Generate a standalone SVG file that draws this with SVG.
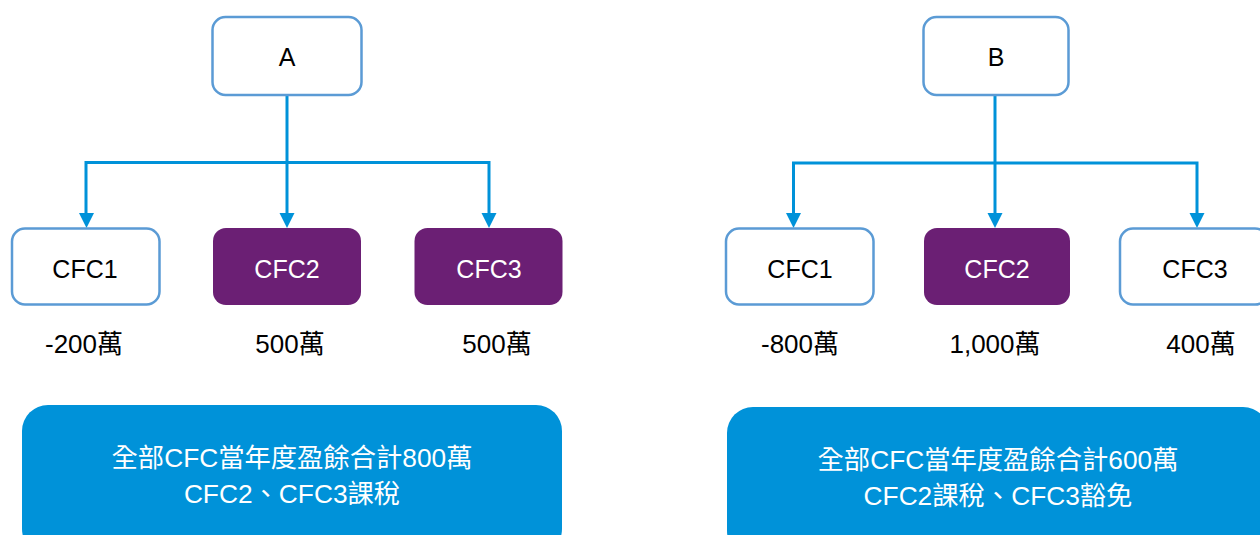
<svg xmlns="http://www.w3.org/2000/svg" width="1260" height="535" viewBox="0 0 1260 535">
<defs>
<style>
text{font-family:"Liberation Sans","Noto Sans CJK TC",sans-serif;text-anchor:middle}
.box{fill:#fff;stroke:#5B9BD5;stroke-width:2.5}
.pur{fill:#6B1F74}
.bt{font-size:25px;fill:#000}
.wt{font-size:25px;fill:#fff}
.lbl{font-size:26px;fill:#000}
.sum{fill:#0092D9}
.st{font-size:26.3px;fill:#fff}
.con{fill:none;stroke:#0092D9;stroke-width:3}
.ah{fill:#0092D9}
</style>
</defs>
<rect width="1260" height="535" fill="#fff"/>
<g id="connectors">
<path class="con" d="M287,95 V213"/>
<path class="con" d="M86,213 V162.5 H489 V213"/>
<path class="ah" d="M79,213 H94 L86.5,228 Z"/>
<path class="ah" d="M279.5,213 H294.5 L287,228 Z"/>
<path class="ah" d="M481.5,213 H496.5 L489,228 Z"/>
<path class="con" d="M995,95 V213"/>
<path class="con" d="M793.5,213 V163 H1197 V213"/>
<path class="ah" d="M786,213 H801 L793.5,228 Z"/>
<path class="ah" d="M987.5,213 H1002.5 L995,228 Z"/>
<path class="ah" d="M1189.5,213 H1204.5 L1197,228 Z"/>
</g>
<g id="nodeA"><rect class="box" x="212.5" y="17" width="149" height="78" rx="13"/><text class="bt" x="287" y="66">A</text></g>
<g id="nodeA_CFC1"><rect class="box" x="12" y="228.5" width="147.5" height="76" rx="13"/><text class="bt" x="85" y="278">CFC1</text></g>
<g id="nodeA_CFC2"><rect class="pur" x="213" y="228" width="148" height="77" rx="13"/><text class="wt" x="287" y="278">CFC2</text></g>
<g id="nodeA_CFC3"><rect class="pur" x="414.5" y="228" width="148" height="77" rx="13"/><text class="wt" x="489" y="278">CFC3</text></g>
<g id="labelsA">
<text class="lbl" x="84" y="353">-200萬</text>
<text class="lbl" x="290" y="353">500萬</text>
<text class="lbl" x="497" y="353">500萬</text>
</g>
<g id="summaryA"><rect class="sum" x="22" y="405" width="540" height="150" rx="26"/>
<text class="st" x="292" y="467">全部CFC當年度盈餘合計800萬</text>
<text class="st" x="292" y="503">CFC2、CFC3課稅</text></g>
<g id="nodeB"><rect class="box" x="923.5" y="17" width="145" height="78" rx="13"/><text class="bt" x="996" y="66">B</text></g>
<g id="nodeB_CFC1"><rect class="box" x="726" y="228.5" width="147.5" height="76" rx="13"/><text class="bt" x="800" y="278">CFC1</text></g>
<g id="nodeB_CFC2"><rect class="pur" x="924" y="228" width="146" height="77" rx="13"/><text class="wt" x="997" y="278">CFC2</text></g>
<g id="nodeB_CFC3"><rect class="box" x="1120" y="228.5" width="148" height="76" rx="13"/><text class="bt" x="1195" y="278">CFC3</text></g>
<g id="labelsB">
<text class="lbl" x="800" y="353">-800萬</text>
<text class="lbl" x="995" y="353">1,000萬</text>
<text class="lbl" x="1201" y="353">400萬</text>
</g>
<g id="summaryB"><rect class="sum" x="727" y="407" width="542" height="150" rx="26"/>
<text class="st" x="998" y="469">全部CFC當年度盈餘合計600萬</text>
<text class="st" x="998" y="505">CFC2課稅、CFC3豁免</text></g>
</svg>
